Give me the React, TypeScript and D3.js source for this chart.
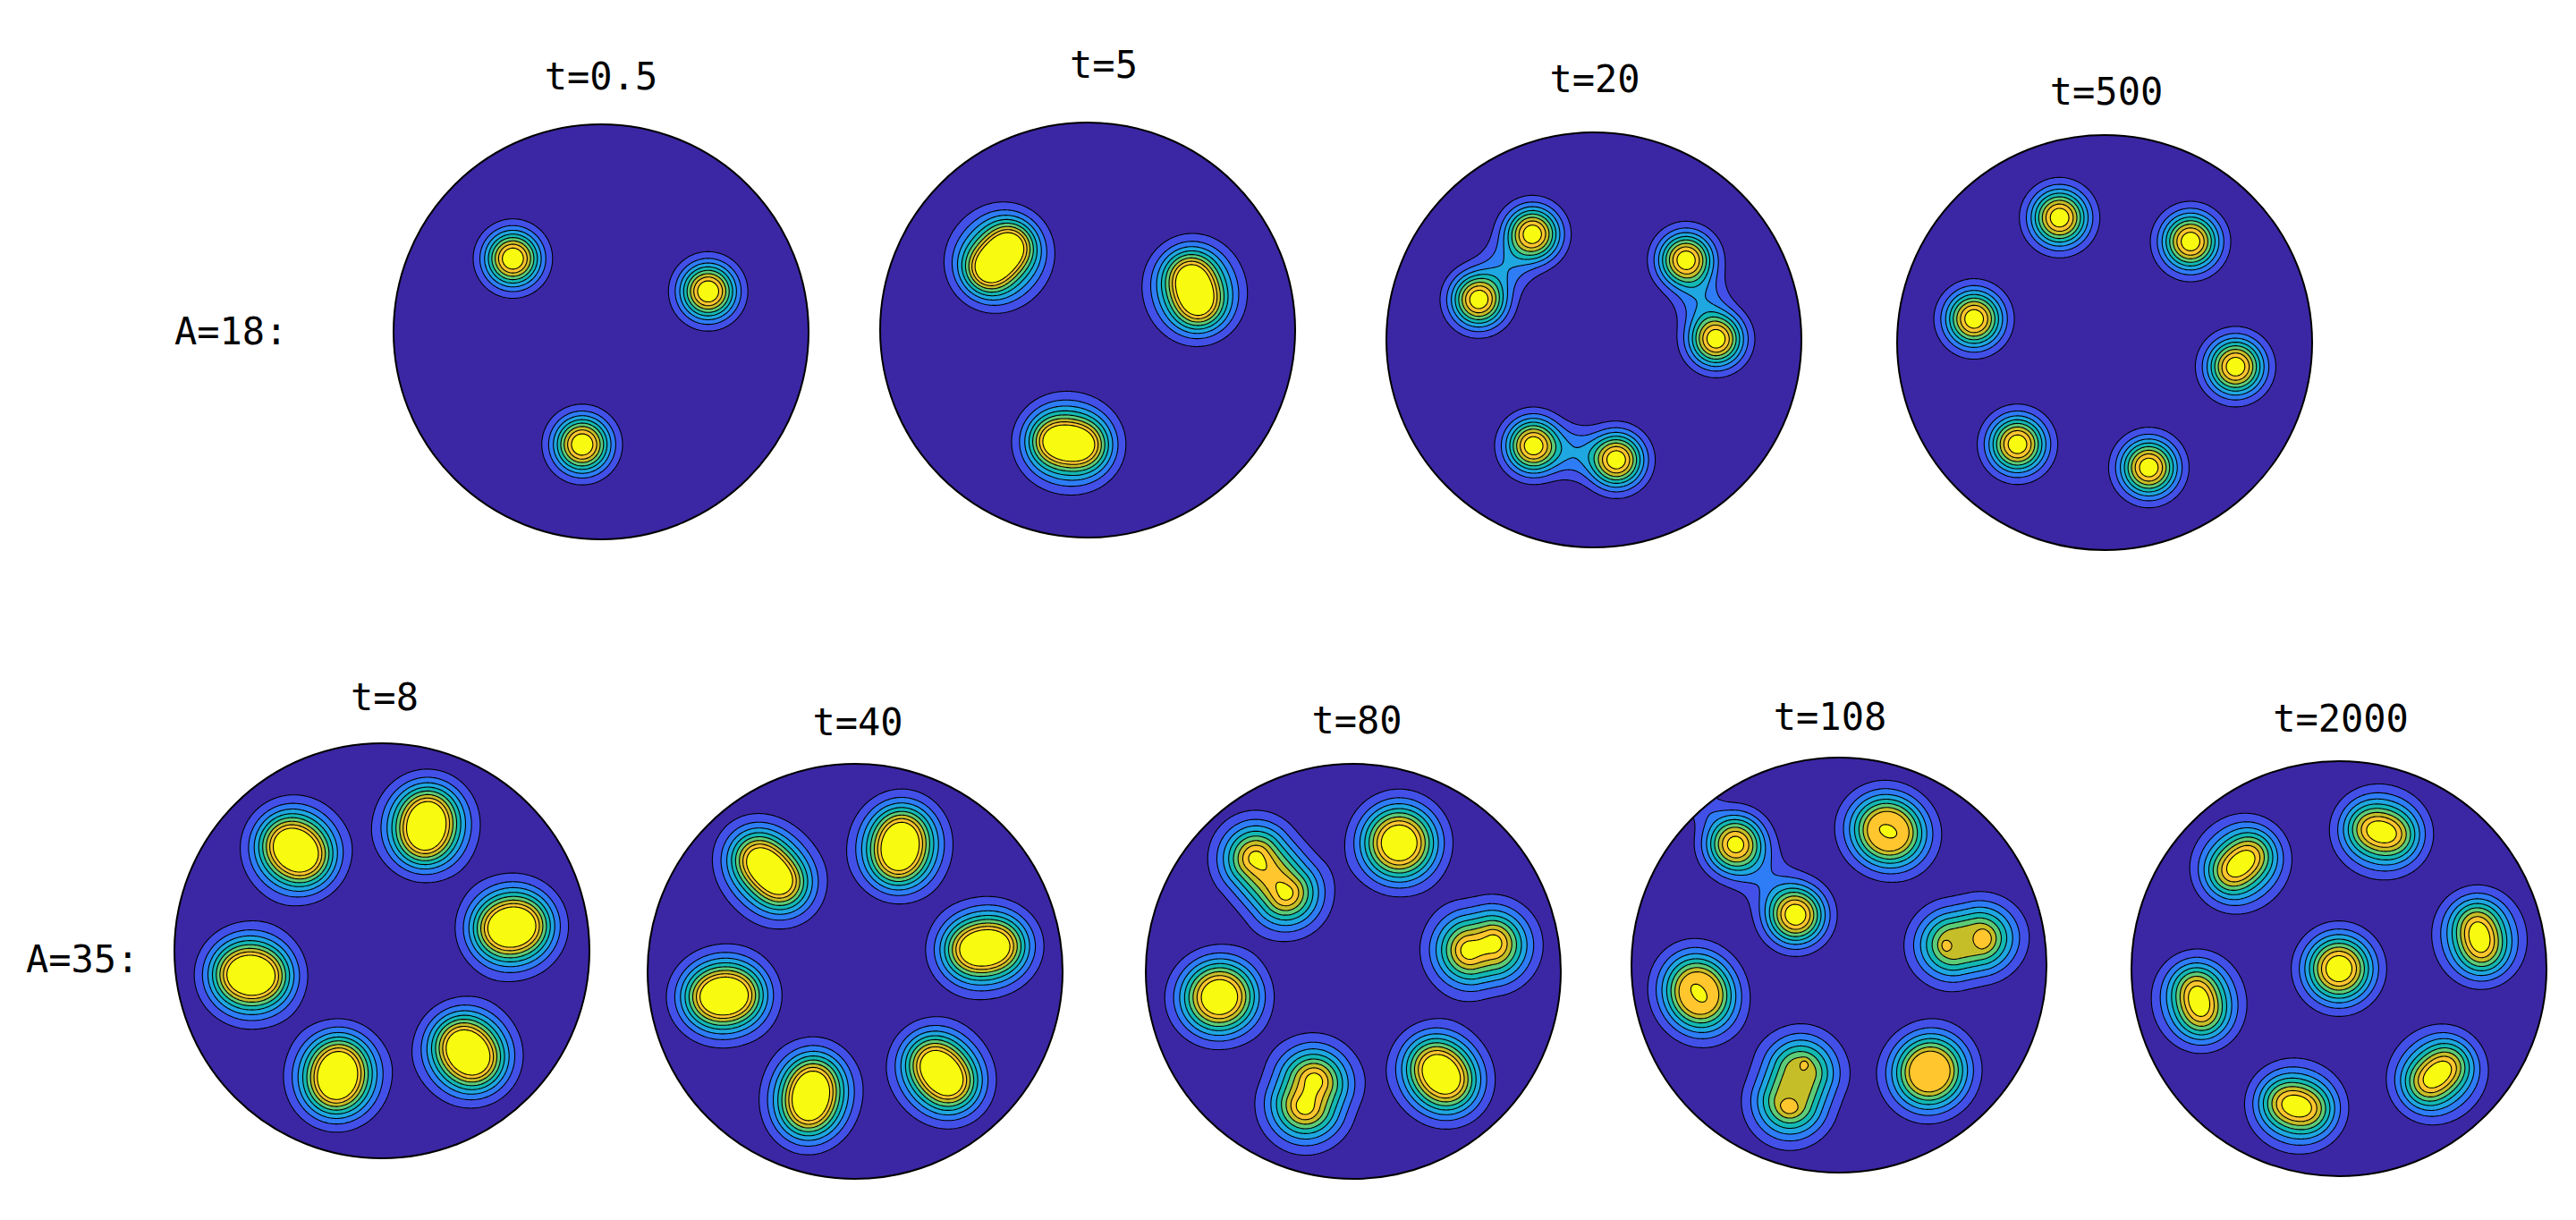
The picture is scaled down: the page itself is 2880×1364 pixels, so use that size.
import { useMemo } from "react";
import * as d3 from "d3";

// A spot is a lobe of the field in disc units (disc radius = 1, y up):
// [x, y, sigma along axis, sigma across axis, axis angle in degrees, amplitude, core stretch, cap, half length]
type Spot = number[];

const levels = [1, 2, 3, 4, 5, 6, 7, 8].map((i) => i / 9);
const levelColors = ["#4250e8", "#2e7df7", "#1ea7e0", "#13b8b3", "#5dcb77", "#c6be28", "#ffc62e", "#f8fa0f"];
const backgroundColor = "#3b27a4";

const spotsT05: Spot[] = [
  [-0.425, 0.353, 0.0905, 0.0905, 0, 1.04],
  [0.516, 0.195, 0.0905, 0.0905, 0, 1.04],
  [-0.091, -0.543, 0.092, 0.092, 0, 1.04],
];

const spotsT5: Spot[] = [
  [-0.425, 0.349, 0.12, 0.116, 47, 1.45, 0.26],
  [0.516, 0.193, 0.121, 0.115, 107, 1.35, 0.2],
  [-0.091, -0.545, 0.122, 0.114, -8, 1.35, 0.2],
];

const spotsT20: Spot[] = [
  [-0.296, 0.51, 0.089, 0.089, 0, 1.0],
  [-0.555, 0.194, 0.089, 0.089, 0, 1.0],
  [-0.425, 0.352, 0.07, 0.09, 50.7, 0.2],
  [0.444, 0.385, 0.089, 0.089, 0, 1.0],
  [0.589, 0.004, 0.089, 0.089, 0, 1.0],
  [0.517, 0.195, 0.07, 0.09, -69, 0.2],
  [-0.292, -0.51, 0.089, 0.089, 0, 1.0],
  [0.109, -0.578, 0.089, 0.089, 0, 1.0],
  [-0.092, -0.543, 0.07, 0.09, -9.6, 0.2],
];

const spotsT500: Spot[] = [
  [-0.217, 0.602, 0.0925, 0.0925, 0, 1.0],
  [0.414, 0.487, 0.0925, 0.0925, 0, 1.0],
  [-0.629, 0.114, 0.0925, 0.0925, 0, 1.0],
  [0.631, -0.116, 0.0925, 0.0925, 0, 1.0],
  [-0.42, -0.49, 0.0925, 0.0925, 0, 1.0],
  [0.213, -0.602, 0.0925, 0.0925, 0, 1.0],
];

const spotsT8: Spot[] = [
  [-0.415, 0.485, 0.121, 0.119, -40, 1.32, 0.1],
  [0.214, 0.602, 0.122, 0.118, 80, 1.32, 0.12],
  [0.626, 0.114, 0.122, 0.118, 10, 1.32, 0.1],
  [-0.631, -0.118, 0.122, 0.118, -5, 1.32, 0.1],
  [-0.214, -0.601, 0.122, 0.118, 80, 1.32, 0.1],
  [0.415, -0.49, 0.122, 0.118, -50, 1.32, 0.1],
];

const spotsT40: Spot[] = [
  [-0.412, 0.483, 0.135, 0.113, -46, 1.3, 0.2],
  [0.217, 0.602, 0.124, 0.116, 80, 1.3, 0.12],
  [0.625, 0.113, 0.128, 0.113, 8, 1.3, 0.14],
  [-0.631, -0.119, 0.125, 0.114, 5, 1.3, 0.1],
  [-0.213, -0.6, 0.128, 0.113, 78, 1.3, 0.12],
  [0.417, -0.49, 0.126, 0.114, -50, 1.3, 0.14],
];

const spotsT80: Spot[] = [
  [-0.397, 0.461, 0.118, 0.116, -49, 0.85, 0, 9, 0.105],
  [-0.473, 0.549, 0.055, 0.055, 0, 0.1],
  [-0.322, 0.373, 0.05, 0.05, 0, 0.1],
  [0.221, 0.619, 0.12, 0.12, 0, 1.15],
  [0.618, 0.115, 0.122, 0.121, 12, 0.88, 0, 9, 0.05],
  [0.547, 0.096, 0.05, 0.05, 0, 0.1],
  [0.684, 0.149, 0.05, 0.05, 0, 0.1],
  [-0.645, -0.124, 0.122, 0.117, 10, 1.15],
  [-0.211, -0.591, 0.122, 0.121, 70, 0.88, 0, 9, 0.05],
  [-0.182, -0.511, 0.05, 0.05, 0, 0.1],
  [-0.239, -0.662, 0.05, 0.05, 0, 0.1],
  [0.424, -0.496, 0.125, 0.115, -50, 1.2, 0.08],
];

const spotsT108: Spot[] = [
  [-0.5, 0.583, 0.095, 0.095, 0, 0.955],
  [-0.208, 0.241, 0.095, 0.095, 0, 1.007],
  [-0.356, 0.414, 0.1, 0.105, -49.5, 0.13],
  [-0.66, 0.775, 0.065, 0.065, 0, 0.14],
  [0.237, 0.645, 0.122, 0.113, -25, 1.1, 0, 0.87],
  [0.237, 0.645, 0.024, 0.016, -25, 0.1],
  [0.615, 0.114, 0.122, 0.1135, 12, 0.82, 0, 0.74, 0.06],
  [0.517, 0.093, 0.019, 0.019, 0, 0.1],
  [0.695, 0.126, 0.035, 0.035, 0, 0.1],
  [-0.21, -0.588, 0.12, 0.118, 70, 0.82, 0, 0.74, 0.07],
  [-0.167, -0.48, 0.02, 0.014, 70, 0.1],
  [-0.241, -0.685, 0.031, 0.031, 0, 0.1],
  [0.437, -0.513, 0.12, 0.116, 45, 1.1, 0, 0.87],
  [-0.675, -0.135, 0.125, 0.113, -65, 1.1, 0, 0.87],
  [-0.675, -0.135, 0.027, 0.017, -53, 0.1],
];

const spotsT2000: Spot[] = [
  [-0.473, 0.506, 0.118, 0.113, 41, 1.04, 0.2],
  [0.205, 0.659, 0.118, 0.111, -15, 1.03, 0.15],
  [0.677, 0.152, 0.118, 0.111, 102, 1.03, 0.17],
  [0, 0, 0.1085, 0.1085, 0, 1.05],
  [-0.674, -0.157, 0.118, 0.111, 104, 1.03, 0.17],
  [-0.204, -0.662, 0.118, 0.111, -15, 1.03, 0.15],
  [0.474, -0.51, 0.118, 0.113, 41, 1.04, 0.2],
];

const panelTitles = ["t=0.5", "t=5", "t=20", "t=500", "t=8", "t=40", "t=80", "t=108", "t=2000"];
const panelSpots = [spotsT05, spotsT5, spotsT20, spotsT500, spotsT8, spotsT40, spotsT80, spotsT108, spotsT2000];

const rowLabels = ["A=18:", "A=35:"];

// layout, in page pixels
const discRadius = 232;
const panelX = [672, 1216, 1782, 2353, 427, 956, 1513, 2056, 2615];
const panelY = [371, 369, 380, 383, 1063, 1086, 1086, 1079, 1083];
const titleX = [672, 1234, 1783, 2355, 430, 959, 1517, 2046, 2617];
const titleY = [100, 87, 103, 117, 794, 822, 820, 816, 818];
const rowLabelX = [195, 29];
const rowLabelY = [385, 1087];

const gridSize = 320;

function spotValue(spot: Spot, x: number, y: number) {
  const [cx, cy, s1, s2, angle, amp, core = 0, cap = Infinity, len = 0] = spot;
  const a = (angle * Math.PI) / 180;
  const dx = x - cx;
  const dy = y - cy;
  const u = Math.max(Math.abs(dx * Math.cos(a) + dy * Math.sin(a)) - len, 0);
  const v = -dx * Math.sin(a) + dy * Math.cos(a);
  // the core of a spot is more elongated than its skirt
  const w = core ? Math.exp(-(u * u + v * v) / (2 * s2 * s2)) : 0;
  const sa = s1 * (1 + 1.15 * core * w);
  const sb = s2 * (1 - 1.15 * core * w);
  return Math.min(amp * Math.exp(-0.5 * ((u * u) / (sa * sa) + (v * v) / (sb * sb))), cap);
}

function buildField(spots: Spot[]) {
  const toX = d3.scaleLinear().domain([0, gridSize]).range([-1, 1]);
  const toY = d3.scaleLinear().domain([0, gridSize]).range([1, -1]);
  const values = new Float64Array(gridSize * gridSize);
  for (let j = 0; j < gridSize; j++) {
    for (let i = 0; i < gridSize; i++) {
      const x = toX(i + 0.5);
      const y = toY(j + 0.5);
      values[j * gridSize + i] = d3.sum(spots, (s) => spotValue(s, x, y));
    }
  }
  return values;
}

const Panel = ({ index }: { index: number }) => {
  const cx = panelX[index];
  const cy = panelY[index];

  const paths = useMemo(() => {
    const values = buildField(panelSpots[index]);
    const contours = d3.contours().size([gridSize, gridSize]).thresholds(levels)(values as any);
    const px = d3.scaleLinear().domain([0, gridSize]).range([cx - discRadius, cx + discRadius]);
    const py = d3.scaleLinear().domain([0, gridSize]).range([cy - discRadius, cy + discRadius]);
    const path = d3.geoPath(
      d3.geoTransform({
        point(x, y) {
          this.stream.point(px(x), py(y));
        },
      })
    );
    return contours.map((c) => path(c) || "");
  }, [index]);

  return (
    <g>
      <clipPath id={`disc-${index}`}>
        <circle cx={cx} cy={cy} r={discRadius} />
      </clipPath>
      <circle cx={cx} cy={cy} r={discRadius} fill={backgroundColor} />
      <g clipPath={`url(#disc-${index})`}>
        {paths.map((d, i) => (
          <path key={i} d={d} fill={levelColors[i]} stroke="#000" strokeWidth={1.1} strokeLinejoin="round" />
        ))}
      </g>
      <circle cx={cx} cy={cy} r={discRadius} fill="none" stroke="#000" strokeWidth={2} />
      <text x={titleX[index]} y={titleY[index]} textAnchor="middle" fontSize={42} fontFamily="'DejaVu Sans Mono', monospace" fill="#000">
        {panelTitles[index]}
      </text>
    </g>
  );
};

export default function App() {
  return (
    <svg width={2880} height={1364} style={{ position: "absolute", left: 0, top: 0, background: "#fff" }}>
      {panelTitles.map((_, i) => (
        <Panel key={i} index={i} />
      ))}
      {rowLabels.map((label, i) => (
        <text key={label} x={rowLabelX[i]} y={rowLabelY[i]} fontSize={42} fontFamily="'DejaVu Sans Mono', monospace" fill="#000">
          {label}
        </text>
      ))}
    </svg>
  );
}
